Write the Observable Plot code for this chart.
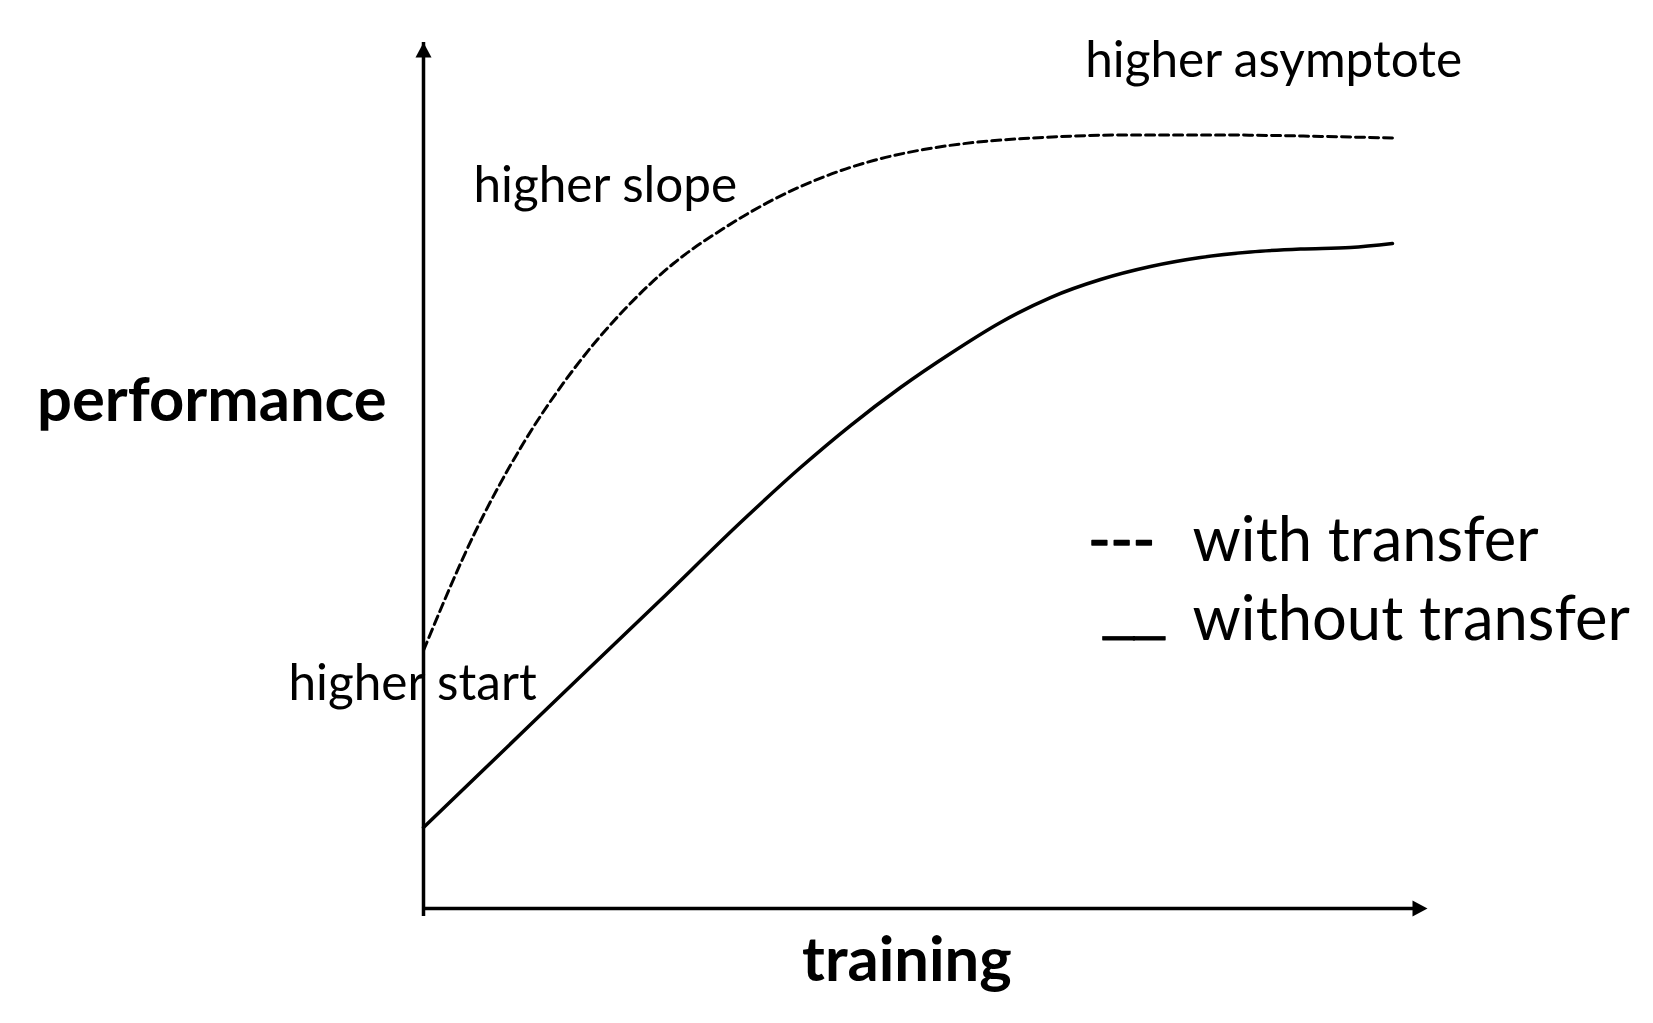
<!DOCTYPE html>
<html>
<head>
<meta charset="utf-8">
<script src="https://cdn.jsdelivr.net/npm/d3@7"></script>
<script src="https://cdn.jsdelivr.net/npm/@observablehq/plot@0.6"></script>
<style>
  html, body { margin: 0; padding: 0; background: #fff; }
  #chart svg { display: block; }
</style>
</head>
<body>
<div id="chart"></div>
<script>
// ---- data (training on x, performance on y; arbitrary units 0–100) ----
const withTransferX = [0, 4.98, 9.96, 14.94, 19.92, 24.90, 29.88, 34.86, 39.84, 44.82, 49.80, 54.78, 59.76, 64.74, 69.72, 74.70, 79.68, 84.66, 89.64, 96.51];
const withTransferY = [29.79, 43.07, 53.75, 62.24, 69.05, 74.48, 78.52, 81.87, 84.47, 86.37, 87.64, 88.45, 88.91, 89.20, 89.32, 89.32, 89.32, 89.26, 89.15, 88.98];

const withoutTransferX = [0, 7.67, 15.64, 23.61, 31.57, 37.55, 42.53, 47.51, 52.49, 57.47, 62.45, 67.43, 72.41, 77.39, 82.37, 87.35, 92.33, 96.51];
const withoutTransferY = [9.35, 17.90, 26.79, 35.62, 44.57, 50.92, 55.77, 60.16, 64.09, 67.67, 70.55, 72.63, 74.13, 75.17, 75.81, 76.15, 76.33, 76.79];

const annotationText = ["higher asymptote", "higher slope", "higher start"];
const annotationX = [65.9, 4.98, -13.45];
const annotationY = [96.07, 81.6, 24.1];

const legendSymbols = ["---", "__"];
const legendSymbolX = [66.2, 67.73];
const legendSymbolY = [40.18, 32.26];
const legendText = ["with transfer", "without transfer"];
const legendTextX = [76.6, 76.6];
const legendTextY = [40.18, 31.06];

const axisTitles = ["performance", "training"];
const axisTitleX = [-38.5, 37.7];
const axisTitleY = [56.24, -8.4];

// ---- build tables ----
const withTransfer = withTransferX.map((x, i) => ({x, y: withTransferY[i]}));
const withoutTransfer = withoutTransferX.map((x, i) => ({x, y: withoutTransferY[i]}));
const annotations = annotationText.map((t, i) => ({t, x: annotationX[i], y: annotationY[i]}));
const legendSym = legendSymbols.map((t, i) => ({t, x: legendSymbolX[i], y: legendSymbolY[i]}));
const legendLab = legendText.map((t, i) => ({t, x: legendTextX[i], y: legendTextY[i]}));
const titles = axisTitles.map((t, i) => ({t, x: axisTitleX[i], y: axisTitleY[i]}));

// filled arrowheads with the tip at the symbol origin
const arrowUp = {draw(ctx) { ctx.moveTo(0, 0); ctx.lineTo(-8, 15); ctx.lineTo(8, 15); ctx.closePath(); }};
const arrowRight = {draw(ctx) { ctx.moveTo(0, 0); ctx.lineTo(-15, -8); ctx.lineTo(-15, 8); ctx.closePath(); }};

const chart = Plot.plot({
  width: 1653,
  height: 1023,
  marginLeft: 423,
  marginRight: 226,
  marginTop: 42,
  marginBottom: 115,
  x: {domain: [0, 100], axis: null},
  y: {domain: [0, 100], axis: null},
  style: {fontFamily: "Lato, sans-serif", background: "#fff", color: "#000"},
  marks: [
    // axes with arrowheads
    Plot.ruleX([0], {y1: 0, y2: 100, stroke: "#000", strokeWidth: 3.5, insetTop: 8}),
    Plot.ruleY([0], {x1: 0, x2: 100, stroke: "#000", strokeWidth: 3.5, insetRight: 8}),
    Plot.dot([{x: 0, y: 100}], {x: "x", y: "y", symbol: arrowUp, fill: "#000", stroke: null, r: 8}),
    Plot.dot([{x: 100, y: 0}], {x: "x", y: "y", symbol: arrowRight, fill: "#000", stroke: null, r: 8}),
    // curves
    Plot.line(withTransfer, {x: "x", y: "y", curve: "monotone-x", stroke: "#000", strokeWidth: 3, strokeDasharray: "9,5"}),
    Plot.line(withoutTransfer, {x: "x", y: "y", curve: "monotone-x", stroke: "#000", strokeWidth: 3.5}),
    // annotations
    Plot.text(annotations, {x: "x", y: "y", text: "t", textAnchor: "start", lineAnchor: "bottom", fontSize: 49.5, fill: "#000"}),
    // legend
    Plot.text(legendSym.slice(0, 1), {x: "x", y: "y", text: "t", textAnchor: "start", lineAnchor: "bottom", fontSize: 60, fill: "#000", stroke: "#000", strokeWidth: 1.5}),
    Plot.text(legendSym.slice(1), {x: "x", y: "y", text: "t", textAnchor: "start", lineAnchor: "bottom", fontSize: 55, fontFamily: "Liberation Sans, sans-serif", fill: "#000", stroke: "#000", strokeWidth: 0.8}),
    Plot.text(legendLab, {x: "x", y: "y", text: "t", textAnchor: "start", lineAnchor: "bottom", fontSize: 61.5, fill: "#000"}),
    // axis titles
    Plot.text(titles, {x: "x", y: "y", text: "t", textAnchor: "start", lineAnchor: "bottom", fontSize: 61.5, fontWeight: "bold", fill: "#000"})
  ]
});
document.getElementById("chart").appendChild(chart);
</script>
</body>
</html>
